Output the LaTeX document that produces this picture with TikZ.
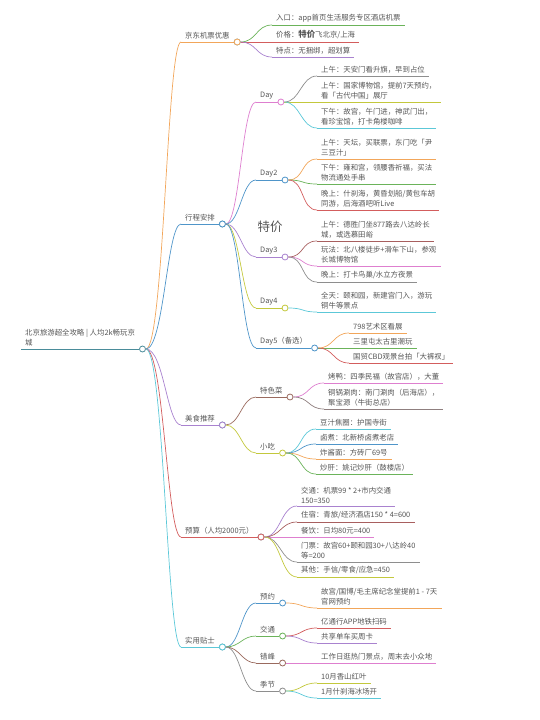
\documentclass[tikz,border=0pt]{standalone}
\usepackage{fontspec}
\setmainfont{Noto Sans CJK SC}
\usetikzlibrary{positioning}

\definecolor{txt}{HTML}{555555}
\definecolor{cteal}{HTML}{4A8C9A}
\definecolor{corange}{HTML}{F2A65A}
\definecolor{cgreen}{HTML}{6BB35A}
\definecolor{cred}{HTML}{D35D5D}
\definecolor{cpurple}{HTML}{A982CF}
\definecolor{cgray}{HTML}{8E8E8E}
\definecolor{colive}{HTML}{C3C83C}
\definecolor{ccyan}{HTML}{5CC8D8}
\definecolor{cblue}{HTML}{4F95C9}
\definecolor{cpink}{HTML}{DE7FCF}
\definecolor{cbrown}{HTML}{9A6A5E}
\definecolor{cbrownred}{HTML}{A85F5F}
\definecolor{cgraybrown}{HTML}{8F7F7F}

\begin{document}
\begin{tikzpicture}[x=1pt, y=-1pt,
  every node/.style={font=\fontsize{7.4}{10}\selectfont},
  topic/.style={anchor=south west, inner xsep=4pt, inner ysep=2.5pt,
                align=left, text=txt,
                append after command={(\tikzlastnode.south west)
                  edge[draw=#1, line width=0.7pt] (\tikzlastnode.south east)}},
  knob/.style={circle, draw=#1, fill=white, line width=0.8pt,
               minimum size=6pt, inner sep=0pt},
  link/.style={draw=#1, line width=0.7pt},
  stray/.style={text=txt, font=\fontsize{12.5}{14}\selectfont},
]
\useasboundingbox (0,0) rectangle (540,720);

% root
\node[topic=cteal] (rt) at (21,349) {北京旅游超全攻略 | 人均2k畅玩京\\城};
\node[knob=cteal, right=0pt of rt.south east] (rto) {};

% first level
\node[topic=corange] (jd) at (181,42) {京东机票优惠};
\node[topic=cblue] (xc) at (181,224) {行程安排};
\node[topic=cpurple] (ms) at (181,425) {美食推荐};
\node[topic=cred] (ys) at (181,537) {预算（人均2000元）};
\node[topic=ccyan] (ts) at (181,647) {实用贴士};
\foreach \n in {jd,xc,ms,ys,ts}
  \node[knob=cteal, right=0pt of \n.south east] (\n o) {};
\node[knob=corange] at (jdo) {};
\node[knob=cblue] at (xco) {};
\node[knob=cpurple] at (mso) {};
\node[knob=cred] at (yso) {};
\node[knob=ccyan] at (tso) {};

\foreach \n/\c in {jd/corange, xc/cblue, ms/cpurple, ys/cred, ts/ccyan}
  \draw[link=\c] (rto.east) .. controls +(18,0) and +(-14,0) .. (\n.south west);

% 京东机票优惠
\node[topic=cgreen] (jd1) at (272,25) {入口：app首页生活服务专区酒店机票};
\node[topic=cred] (jd2) at (272,42) {价格：\textbf{\fontsize{8.4}{10}\selectfont 特价}飞北京/上海};
\node[topic=cpurple] (jd3) at (272,57) {特点：无捆绑，超划算};
\foreach \n/\c in {jd1/cgreen, jd2/cred, jd3/cpurple}
  \draw[link=\c] (jdo.east) .. controls +(16,0) and +(-16,0) .. (\n.south west);

% 行程安排
\node[topic=cpink] (day1) at (256,102) {Day};
\node[topic=cblue] (day2) at (256,180) {Day2};
\node[topic=cpurple] (day3) at (256,257) {Day3};
\node[topic=colive] (day4) at (256,308) {Day4};
\node[topic=cblue] (day5) at (256,348) {Day5（备选）};
\node[knob=cpink, right=0pt of day1.south east] (day1o) {};
\node[knob=cblue, right=0pt of day2.south east] (day2o) {};
\node[knob=cpurple, right=0pt of day3.south east] (day3o) {};
\node[knob=colive, right=0pt of day4.south east] (day4o) {};
\node[knob=cblue, right=0pt of day5.south east] (day5o) {};
\foreach \n/\c in {day1/cpink, day2/cblue, day3/cpurple, day4/colive, day5/cblue}
  \draw[link=\c] (xco.east) .. controls +(14,0) and +(-14,0) .. (\n.south west);

\node[stray] (tj) at (270,227) {特价};

\node[topic=cgray] (d1a) at (317,76) {上午：天安门看升旗，早到占位};
\node[topic=colive] (d1b) at (317,102) {上午：国家博物馆，提前7天预约，\\看「古代中国」展厅};
\node[topic=ccyan] (d1c) at (317,128) {下午：故宫，午门进，神武门出，\\看珍宝馆，打卡角楼咖啡};
\foreach \n/\c in {d1a/cgray, d1b/colive, d1c/ccyan}
  \draw[link=\c] (day1o.east) .. controls +(16,0) and +(-16,0) .. (\n.south west);

\node[topic=corange] (d2a) at (317,159) {上午：天坛，买联票，东门吃「尹\\三豆汁」};
\node[topic=cgreen] (d2b) at (317,184) {下午：雍和宫，领腰香祈福，买法\\物流通处手串};
\node[topic=cred] (d2c) at (317,210) {晚上：什刹海，黄昏划船/黄包车胡\\同游，后海酒吧听Live};
\foreach \n/\c in {d2a/corange, d2b/cgreen, d2c/cred}
  \draw[link=\c] (day2o.east) .. controls +(16,0) and +(-16,0) .. (\n.south west);

\node[topic=cbrownred] (d3a) at (317,241) {上午：德胜门坐877路去八达岭长\\城，或选慕田峪};
\node[topic=cpink] (d3b) at (317,266) {玩法：北八楼徒步+滑车下山，参观\\长城博物馆};
\node[topic=cgray] (d3c) at (317,282) {晚上：打卡鸟巢/水立方夜景};
\foreach \n/\c in {d3a/cbrownred, d3b/cpink, d3c/cgray}
  \draw[link=\c] (day3o.east) .. controls +(16,0) and +(-16,0) .. (\n.south west);

\node[topic=ccyan] (d4a) at (317,312) {全天：颐和园，新建宫门入，游玩\\铜牛等景点};
\draw[link=ccyan] (day4o.east) .. controls +(16,0) and +(-16,0) .. (d4a.south west);

\node[topic=corange] (d5a) at (349,333) {798艺术区看展};
\node[topic=cgreen] (d5b) at (349,348) {三里屯太古里潮玩};
\node[topic=cred] (d5c) at (349,363) {国贸CBD观景台拍「大裤衩」};
\foreach \n/\c in {d5a/corange, d5b/cgreen, d5c/cred}
  \draw[link=\c] (day5o.east) .. controls +(16,0) and +(-16,0) .. (\n.south west);

% 美食推荐
\node[topic=cbrown] (tc) at (256,397) {特色菜};
\node[topic=colive] (xcs) at (256,453) {小吃};
\node[knob=cbrown, right=0pt of tc.south east] (tco) {};
\node[knob=colive, right=0pt of xcs.south east] (xcso) {};
\foreach \n/\c in {tc/cbrown, xcs/colive}
  \draw[link=\c] (mso.east) .. controls +(14,0) and +(-14,0) .. (\n.south west);

\node[topic=cpink] (tc1) at (324,383) {烤鸭：四季民福（故宫店），大董};
\node[topic=cgraybrown] (tc2) at (324,409) {铜锅涮肉：南门涮肉（后海店），\\聚宝源（牛街总店）};
\foreach \n/\c in {tc1/cpink, tc2/cgraybrown}
  \draw[link=\c] (tco.east) .. controls +(16,0) and +(-16,0) .. (\n.south west);

\node[topic=ccyan] (xs1) at (316,429) {豆汁焦圈：护国寺街};
\node[topic=cblue] (xs2) at (316,444) {卤煮：北新桥卤煮老店};
\node[topic=corange] (xs3) at (316,459) {炸酱面：方砖厂69号};
\node[topic=cgreen] (xs4) at (316,474) {炒肝：姚记炒肝（鼓楼店）};
\foreach \n/\c in {xs1/ccyan, xs2/cblue, xs3/corange, xs4/cgreen}
  \draw[link=\c] (xcso.east) .. controls +(16,0) and +(-16,0) .. (\n.south west);

% 预算
\node[topic=cpurple] (ys1) at (297,506) {交通：机票99 * 2+市内交通\\150=350};
\node[topic=cbrownred] (ys2) at (297,522) {住宿：青旅/经济酒店150 * 4=600};
\node[topic=cpink] (ys3) at (297,537) {餐饮：日均80元=400};
\node[topic=cgray] (ys4) at (297,562) {门票：故宫60+颐和园30+八达岭40\\等=200};
\node[topic=colive] (ys5) at (297,577) {其他：手信/零食/应急=450};
\foreach \n/\c in {ys1/cpurple, ys2/cbrownred, ys3/cpink, ys4/cgray, ys5/colive}
  \draw[link=\c] (yso.east) .. controls +(16,0) and +(-16,0) .. (\n.south west);

% 实用贴士
\node[topic=cblue] (tp1) at (256,603) {预约};
\node[topic=cgreen] (tp2) at (256,636) {交通};
\node[topic=cbrown] (tp3) at (256,663) {错峰};
\node[topic=cgray] (tp4) at (256,691) {季节};
\node[knob=cblue, right=0pt of tp1.south east] (tp1o) {};
\node[knob=cgreen, right=0pt of tp2.south east] (tp2o) {};
\node[knob=cbrown, right=0pt of tp3.south east] (tp3o) {};
\node[knob=cgray, right=0pt of tp4.south east] (tp4o) {};
\foreach \n/\c in {tp1/cblue, tp2/cgreen, tp3/cbrown, tp4/cgray}
  \draw[link=\c] (tso.east) .. controls +(14,0) and +(-14,0) .. (\n.south west);

\node[topic=corange] (tp1a) at (317,608) {故宫/国博/毛主席纪念堂提前1 - 7天\\官网预约};
\draw[link=corange] (tp1o.east) .. controls +(16,0) and +(-16,0) .. (tp1a.south west);
\node[topic=cred] (tp2a) at (317,628) {亿通行APP地铁扫码};
\node[topic=cpurple] (tp2b) at (317,643) {共享单车买周卡};
\foreach \n/\c in {tp2a/cred, tp2b/cpurple}
  \draw[link=\c] (tp2o.east) .. controls +(16,0) and +(-16,0) .. (\n.south west);
\node[topic=cpink] (tp3a) at (317,663) {工作日逛热门景点，周末去小众地};
\draw[link=cpink] (tp3o.east) .. controls +(16,0) and +(-16,0) .. (tp3a.south west);
\node[topic=colive] (tp4a) at (317,683) {10月香山红叶};
\node[topic=ccyan] (tp4b) at (317,698) {1月什刹海冰场开};
\foreach \n/\c in {tp4a/colive, tp4b/ccyan}
  \draw[link=\c] (tp4o.east) .. controls +(16,0) and +(-16,0) .. (\n.south west);

\end{tikzpicture}
\end{document}
